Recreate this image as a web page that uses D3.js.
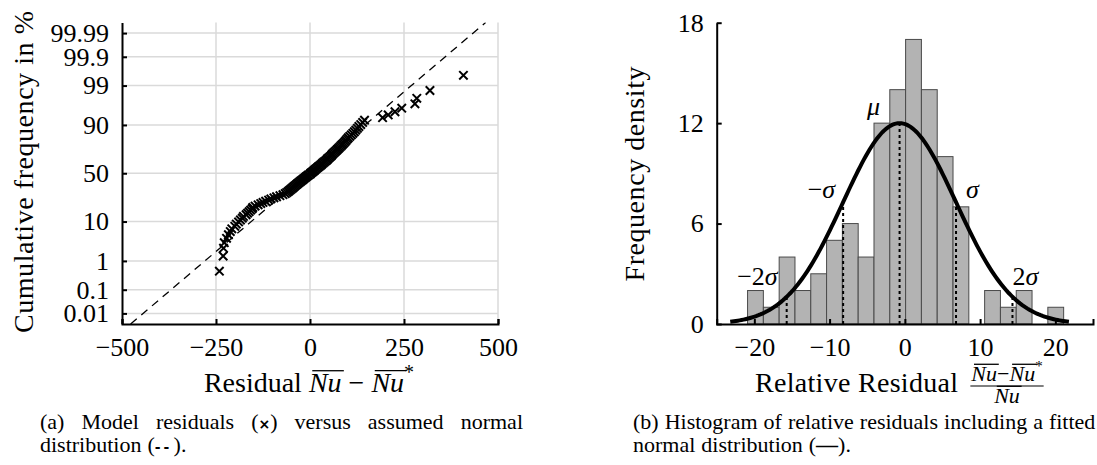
<!DOCTYPE html>
<html>
<head>
<meta charset="utf-8">
<script src="https://cdn.jsdelivr.net/npm/d3@7"></script>
<style>
  body { margin: 0; background: #fff; }
  svg text { font-family: "Liberation Serif", "Times New Roman", serif; fill: #000; }
</style>
</head>
<body>
<svg id="chart"></svg>
<script>
/* global d3 */

// (a) sorted model residuals
let residuals = [
  -241, -231, -230, -228, -222, -217, -212, -208, -200, -196,
  -190, -185, -180, -177, -170, -166, -162, -158, -154, -152,
  -146, -138, -131, -125, -118, -110, -104, -96, -89, -80,
  -72, -66, -62, -58, -55, -52, -49, -46, -43, -40,
  -37, -34, -31, -28, -25, -22, -19, -16, -13, -10,
  -7, -4, 0, 2, 5, 8, 11, 13, 16, 19,
  22, 25, 28, 31, 33, 36, 39, 42, 45, 47,
  50, 53, 56, 58, 60, 63, 66, 69, 72, 75,
  78, 81, 84, 87, 90, 93, 96, 99, 102, 106,
  110, 114, 118, 122, 126, 130, 135, 140, 145, 193,
  208, 226, 244, 279, 284, 319, 408
];
let probTicks = [0.01, 0.1, 1, 10, 50, 90, 99, 99.9, 99.99];
let probTickLabels = ["0.01", "0.1", "1", "10", "50", "90", "99", "99.9", "99.99"];
let residualTicks = [-500, -250, 0, 250, 500];
let residualGrid = [-250, 0, 250, 500];
// assumed normal distribution (dashed line)
let assumedMu = -5;
let assumedSigma = 118;

// (b) histogram of relative residuals
let binEdges = [-20.9, -18.8, -16.7, -14.6, -12.5, -10.4, -8.3, -6.2, -4.1, -2.0, 0.1,
  2.2, 4.3, 6.4, 8.5, 10.6, 12.7, 14.8, 16.9, 19.0, 21.1];
let binCounts = [2, 1, 4, 2, 3, 5, 6, 4, 12, 14, 17, 14, 10, 7, 0, 2, 1, 2, 0, 1];
let relTicks = [-20, -10, 0, 10, 20];
let densTicks = [0, 6, 12, 18];
// fitted normal distribution
let fitMu = -0.7;
let fitSigma = 7.5;
let fitPeak = 12;
let sigmaSteps = [-2, -1, 0, 1, 2];
let sigmaLabels = [["−2", "σ"], ["−", "σ"], ["", "μ"], ["", "σ"], ["2", "σ"]];

let WIDTH = 1097;
let HEIGHT = 465;

let svg = d3.select("#chart")
  .attr("width", WIDTH)
  .attr("height", HEIGHT);

// inverse normal CDF (Acklam)
function probit(p) {
  let a = [-39.69683028665376, 220.9460984245205, -275.9285104469687, 138.3577518672690, -30.66479806614716, 2.506628277459239];
  let b = [-54.47609879822406, 161.5858368580409, -155.6989798598866, 66.80131188771972, -13.28068155288572];
  let c = [-0.007784894002430293, -0.3223964580411365, -2.400758277161838, -2.549732539343734, 4.374664141464968, 2.938163982698783];
  let d = [0.007784695709041462, 0.3224671290700398, 2.445134137142996, 3.754408661907416];
  let pl = 0.02425;
  if (p < pl) {
    let q = Math.sqrt(-2 * Math.log(p));
    return (((((c[0] * q + c[1]) * q + c[2]) * q + c[3]) * q + c[4]) * q + c[5]) / ((((d[0] * q + d[1]) * q + d[2]) * q + d[3]) * q + 1);
  }
  if (p > 1 - pl) {
    let q = Math.sqrt(-2 * Math.log(1 - p));
    return -(((((c[0] * q + c[1]) * q + c[2]) * q + c[3]) * q + c[4]) * q + c[5]) / ((((d[0] * q + d[1]) * q + d[2]) * q + d[3]) * q + 1);
  }
  let q = p - 0.5, r = q * q;
  return (((((a[0] * r + a[1]) * r + a[2]) * r + a[3]) * r + a[4]) * r + a[5]) * q / (((((b[0] * r + b[1]) * r + b[2]) * r + b[3]) * r + b[4]) * r + 1);
}

// lay out a run of text pieces (overlines, italics, superscripts)
function drawPieces(parent, x, y, pieces, anchor) {
  let g = parent.append("g");
  let cursor = 0;
  let items = pieces.map((p) => {
    let t = g.append("text")
      .attr("x", cursor)
      .attr("y", y + (p.dy || 0))
      .style("font-size", p.size + "px")
      .style("font-style", p.italic ? "italic" : "normal")
      .text(p.t);
    let w = t.node().getComputedTextLength();
    let item = { x: cursor, w: w, p: p };
    cursor += w;
    return item;
  });
  let shift = anchor === "middle" ? x - cursor / 2 : (anchor === "end" ? x - cursor : x);
  g.attr("transform", "translate(" + shift + ",0)");
  items.forEach((it) => {
    if (it.p.overline) {
      let oy = y - it.p.size * 0.76;
      g.append("line")
        .attr("x1", it.x + it.p.size * 0.12)
        .attr("x2", it.x + it.w + it.p.size * 0.08)
        .attr("y1", oy).attr("y2", oy)
        .style("stroke", "#000")
        .style("stroke-width", 1.3);
    }
  });
  return { left: shift, width: cursor };
}

function styleAxis(g) {
  g.attr("font-size", null).attr("font-family", null);
  g.select(".domain").style("stroke", "#000").style("stroke-width", 2);
  g.selectAll(".tick line").style("stroke", "#000").style("stroke-width", 2);
  g.selectAll(".tick text").style("font-size", "26px");
}

// ---------------- (a) probability plot ----------------
let xA = d3.scaleLinear().domain([-500, 500]).range([122, 498]);
let zA = d3.scaleLinear().domain([-4, 4]).range([324, 22.5]);

let plotA = svg.append("g").attr("class", "plotA");

plotA.append("defs").append("clipPath")
  .attr("id", "clipA")
  .append("rect")
  .attr("x", xA(-500)).attr("y", zA(4))
  .attr("width", xA(500) - xA(-500))
  .attr("height", zA(-4) - zA(4));

// grid
plotA.append("g")
  .selectAll("line")
  .data(probTicks)
  .enter().append("line")
  .attr("x1", xA(-500)).attr("x2", xA(500))
  .attr("y1", d => zA(probit(d / 100)))
  .attr("y2", d => zA(probit(d / 100)))
  .style("stroke", "#dadada")
  .style("stroke-width", 1.5);

plotA.append("g")
  .selectAll("line")
  .data(residualGrid)
  .enter().append("line")
  .attr("x1", d => xA(d)).attr("x2", d => xA(d))
  .attr("y1", zA(4)).attr("y2", zA(-4))
  .style("stroke", "#dadada")
  .style("stroke-width", 1.5);

// assumed normal distribution
plotA.append("line")
  .attr("clip-path", "url(#clipA)")
  .attr("x1", xA(assumedMu - 4 * assumedSigma)).attr("y1", zA(-4))
  .attr("x2", xA(assumedMu + 4 * assumedSigma)).attr("y2", zA(4))
  .style("stroke", "#000")
  .style("stroke-width", 1.3)
  .style("stroke-dasharray", "8,6");

// residual markers at their cumulative frequency
let timesType = d3.symbolTimes || {
  draw: function(ctx, size) {
    let r = Math.sqrt(size - Math.min(size / 7, 2)) * 0.6189;
    ctx.moveTo(-r, -r); ctx.lineTo(r, r);
    ctx.moveTo(-r, r); ctx.lineTo(r, -r);
  }
};
let n = residuals.length;
plotA.append("g")
  .selectAll("path")
  .data(residuals)
  .enter().append("path")
  .attr("d", d3.symbol().type(timesType).size(48))
  .attr("transform", (d, i) => "translate(" + xA(d) + "," + zA(probit((i + 0.5) / n)) + ")")
  .style("fill", "none")
  .style("stroke", "#000")
  .style("stroke-width", 2);

// axes
plotA.append("g")
  .attr("transform", "translate(0," + zA(-4) + ")")
  .call(d3.axisBottom(xA)
    .tickValues(residualTicks)
    .tickFormat(d3.format("d"))
    .tickSizeInner(-5)
    .tickSizeOuter(-5)
    .tickPadding(14))
  .call(styleAxis);

plotA.append("g")
  .attr("transform", "translate(" + xA(-500) + ",0)")
  .call(d3.axisLeft(zA)
    .tickValues(probTicks.map(p => probit(p / 100)))
    .tickFormat((d, i) => probTickLabels[i])
    .tickSizeInner(-5)
    .tickSizeOuter(0)
    .tickPadding(13))
  .call(styleAxis);

plotA.append("text")
  .attr("transform", "translate(33,172) rotate(-90)")
  .attr("text-anchor", "middle")
  .attr("textLength", 322)
  .attr("lengthAdjust", "spacing")
  .style("font-size", "28px")
  .text("Cumulative frequency in %");

drawPieces(plotA, 309, 392, [
  { t: "Residual\u00a0", size: 28 },
  { t: "Nu", size: 28, italic: true, overline: true },
  { t: "\u00a0−\u00a0", size: 28 },
  { t: "Nu", size: 28, italic: true, overline: true },
  { t: "*", size: 20, dy: -13 }
], "middle");

// ---------------- (b) histogram ----------------
let xB = d3.scaleLinear().domain([-25, 25]).range([716.7, 1093]);
let yB = d3.scaleLinear().domain([0, 18]).range([324, 22.7]);

let plotB = svg.append("g").attr("class", "plotB");

let bins = binCounts.map((c, i) => ({ x0: binEdges[i], x1: binEdges[i + 1], count: c }));

plotB.append("g")
  .selectAll("rect")
  .data(bins.filter(b => b.count > 0))
  .enter().append("rect")
  .attr("x", d => xB(d.x0))
  .attr("width", d => xB(d.x1) - xB(d.x0))
  .attr("y", d => yB(d.count))
  .attr("height", d => yB(0) - yB(d.count))
  .style("fill", "#b3b3b3")
  .style("stroke", "#4a4a4a")
  .style("stroke-width", 1);

let fitDensity = x => fitPeak * Math.exp(-0.5 * Math.pow((x - fitMu) / fitSigma, 2));

// dotted marks at mu + k sigma
plotB.append("g")
  .selectAll("line")
  .data(sigmaSteps)
  .enter().append("line")
  .attr("x1", k => xB(fitMu + k * fitSigma))
  .attr("x2", k => xB(fitMu + k * fitSigma))
  .attr("y1", yB(0))
  .attr("y2", k => yB(fitDensity(fitMu + k * fitSigma)))
  .style("stroke", "#000")
  .style("stroke-width", 2)
  .style("stroke-dasharray", "3,3");

// fitted curve over mu +- 3 sigma
let curveX = d3.range(fitMu - 3 * fitSigma, fitMu + 3 * fitSigma + 0.01, 0.25);
plotB.append("path")
  .datum(curveX)
  .attr("d", d3.line().x(x => xB(x)).y(x => yB(fitDensity(x))))
  .style("fill", "none")
  .style("stroke", "#000")
  .style("stroke-width", 4);

// sigma labels
let labelOffsets = [
  { dx: -9, dy: -12, anchor: "end" },
  { dx: -8, dy: -4, anchor: "end" },
  { dx: -26, dy: -8, anchor: "middle" },
  { dx: 10, dy: -4, anchor: "start" },
  { dx: 0, dy: -12, anchor: "start" }
];
sigmaSteps.forEach((k, i) => {
  let xv = fitMu + k * fitSigma;
  let t = plotB.append("text")
    .attr("x", xB(xv) + labelOffsets[i].dx)
    .attr("y", yB(fitDensity(xv)) + labelOffsets[i].dy)
    .attr("text-anchor", labelOffsets[i].anchor)
    .style("font-size", "26px");
  t.append("tspan").text(sigmaLabels[i][0]);
  t.append("tspan").style("font-style", "italic").text(sigmaLabels[i][1]);
});

plotB.append("g")
  .attr("transform", "translate(0," + yB(0) + ")")
  .call(d3.axisBottom(xB)
    .tickValues(relTicks)
    .tickFormat(d3.format("d"))
    .tickSizeInner(-5)
    .tickSizeOuter(-5)
    .tickPadding(14))
  .call(styleAxis);

plotB.append("g")
  .attr("transform", "translate(" + xB(-25) + ",0)")
  .call(d3.axisLeft(yB)
    .tickValues(densTicks)
    .tickSizeInner(-5)
    .tickSizeOuter(0)
    .tickPadding(13))
  .call(styleAxis);

plotB.append("text")
  .attr("transform", "translate(644,174) rotate(-90)")
  .attr("text-anchor", "middle")
  .attr("textLength", 215)
  .attr("lengthAdjust", "spacing")
  .style("font-size", "28px")
  .text("Frequency density");

plotB.append("text")
  .attr("x", 755)
  .attr("y", 392)
  .attr("textLength", 203)
  .attr("lengthAdjust", "spacing")
  .style("font-size", "28px")
  .text("Relative Residual");

// fraction (Nu - Nu*) / Nu
let fracX = 1007;
let num = drawPieces(plotB, fracX, 381, [
  { t: "Nu", size: 22, italic: true, overline: true },
  { t: "−", size: 22 },
  { t: "Nu", size: 22, italic: true, overline: true },
  { t: "*", size: 15, dy: -10 }
], "middle");
plotB.append("line")
  .attr("x1", num.left - 1).attr("x2", num.left + num.width + 1)
  .attr("y1", 386).attr("y2", 386)
  .style("stroke", "#000")
  .style("stroke-width", 1.2);
drawPieces(plotB, fracX, 403, [
  { t: "Nu", size: 22, italic: true, overline: true }
], "middle");

// ---------------- captions ----------------
let caption = svg.append("g").attr("class", "captions");

function captionLine(x0, x1, y, words) {
  let nodes = words.map((w) => {
    let t = caption.append("text").attr("y", y).style("font-size", "22px");
    w.forEach((seg) => {
      let ts = t.append("tspan").text(seg[0]);
      if (seg[1] === "sym") {
        ts.style("font-family", "'DejaVu Sans', sans-serif")
          .style("font-weight", "bold")
          .style("font-size", "14px");
      } else if (seg[1] === "rule") {
        ts.style("font-weight", "bold");
      }
    });
    return { t: t, w: t.node().getComputedTextLength() };
  });
  let total = d3.sum(nodes, d => d.w);
  let gap = x1 === null ? 6 : (x1 - x0 - total) / (nodes.length - 1);
  let cx = x0;
  nodes.forEach((d) => {
    d.t.attr("x", cx);
    cx += d.w + gap;
  });
}

captionLine(40, 523, 429, [
  [["(a)"]], [["Model"]], [["residuals"]], [["("], ["×", "sym"], [")"]],
  [["versus"]], [["assumed"]], [["normal"]]
]);
captionLine(40, null, 452, [
  [["distribution"]], [["("], ["-\u2009-", "sym"], ["\u2009)."]]
]);
captionLine(633, null, 429, [
  [["(b)"]], [["Histogram"]], [["of"]], [["relative"]], [["residuals"]],
  [["including"]], [["a"]], [["fitted"]]
]);
captionLine(633, null, 452, [
  [["normal"]], [["distribution"]], [["("], ["—", "rule"], [")."]]
]);
</script>
</body>
</html>
